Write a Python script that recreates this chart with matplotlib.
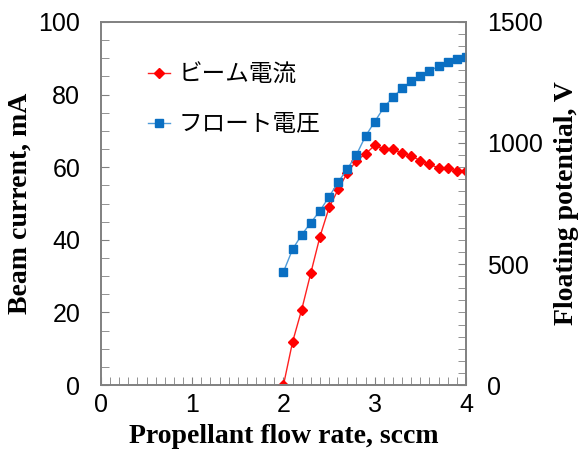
import numpy as np
import matplotlib
matplotlib.use('Agg')
import matplotlib.pyplot as plt
from matplotlib.ticker import MultipleLocator

# flow rate, sccm
flow = [2.0, 2.1, 2.2, 2.3, 2.4, 2.5, 2.6, 2.7, 2.8, 2.9, 3.0,
        3.1, 3.2, 3.3, 3.4, 3.5, 3.6, 3.7, 3.8, 3.9, 4.0]
# beam current, mA
beam = [0.0, 11.9, 20.8, 30.9, 40.9, 48.9, 53.9, 58.5, 61.8, 63.7, 66.0,
        65.0, 64.9, 63.9, 63.1, 61.8, 60.8, 59.8, 59.8, 58.9, 58.9]
# floating potential, V
vfloat = [468, 561, 621, 671, 720, 778, 839, 893, 952, 1029, 1088,
          1147, 1189, 1226, 1256, 1278, 1297, 1318, 1333, 1347, 1357]

tick_font = ['Liberation Sans', 'DejaVu Sans']
label_font = 'Liberation Serif'
jp_font = ['Noto Sans CJK JP', 'DejaVu Sans']
gray = '#808080'

fig = plt.figure(figsize=(5.79, 4.66), dpi=100)
ax = fig.add_axes([0.1744, 0.1738, 0.6304, 0.779])
ax2 = ax.twinx()

l1, = ax.plot(flow, beam, color='#ff2020', lw=1.0, marker='D', ms=5,
              mfc='#ff0000', mec='#ff0000', label='ビーム電流')
l2, = ax2.plot(flow, vfloat, color='#4f9bd9', lw=1.0, marker='s', ms=6,
               mfc='#0a6fc2', mec='#0a6fc2', label='フロート電圧')

ax.set_xlim(0, 4)
ax.set_ylim(0, 100)
ax2.set_ylim(0, 1500)
ax.xaxis.set_major_locator(MultipleLocator(1))
ax.xaxis.set_minor_locator(MultipleLocator(0.1))
ax.yaxis.set_major_locator(MultipleLocator(20))
ax.yaxis.set_minor_locator(MultipleLocator(5))
ax2.yaxis.set_major_locator(MultipleLocator(500))
ax2.yaxis.set_minor_locator(MultipleLocator(50))

for a in (ax, ax2):
    for s in a.spines.values():
        s.set_color(gray)
        s.set_linewidth(1.2)
    a.tick_params(which='both', direction='in', color=gray, labelsize=18)
    a.tick_params(which='both', length=6)
    a.tick_params(axis='y', pad=15)
    a.tick_params(axis='x', pad=6)
    for t in a.get_xticklabels() + a.get_yticklabels():
        t.set_family(tick_font)

ax.set_xlabel('Propellant flow rate, sccm', fontsize=20, fontweight='bold',
              family=label_font, labelpad=5)
ax.set_ylabel('Beam current, mA', fontsize=20, fontweight='bold',
              family=label_font, labelpad=4)
ax2.set_ylabel('Floating potential, V', fontsize=20, fontweight='bold',
               family=label_font, labelpad=8)

leg = ax.legend(handles=[l1, l2], loc='upper left', bbox_to_anchor=(0.07, 0.945),
                frameon=False, prop={'family': jp_font, 'size': 17},
                handlelength=0.95, handletextpad=0.35, labelspacing=1.15)

fig.savefig('out.png', dpi=100)
